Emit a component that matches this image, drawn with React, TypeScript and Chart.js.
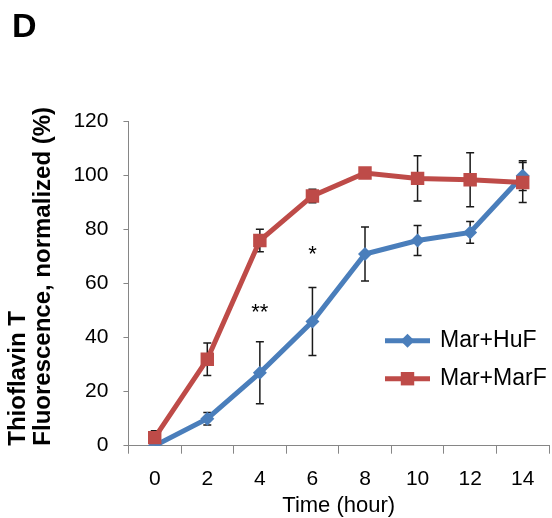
import React, { useEffect, useRef } from 'react';
import { Chart, registerables } from 'chart.js';

Chart.register(...registerables);

const timeLabels = ['0', '2', '4', '6', '8', '10', '12', '14'];
const seriesNames = ['Mar+HuF', 'Mar+MarF'];
const huF = [0, 10, 27, 46, 71, 76, 79, 100];
const huFErr = [0, 2.3, 11.5, 12.6, 10, 5.6, 4, 5.5];
const marF = [3, 32, 76, 92.5, 101, 99, 98.5, 97.5];
const marFErr = [2.5, 6, 4.2, 2.5, 1, 8.4, 10, 7.4];
const yTicks = [0, 20, 40, 60, 80, 100, 120];
const starTexts = ['**', '*'];
const starAt = ['4', '6'];
const starValues = [49, 70.5];
const panelLabel = 'D';

const FONT = '"Liberation Sans", Arial, Helvetica, sans-serif';
const BLUE = '#4A7EBB';
const RED = '#BE4B48';
const AXIS = '#868686';

const errorBarPlugin = {
  id: 'errorBars',
  beforeDatasetsDraw(chart: any) {
    const ctx = chart.ctx;
    const y = chart.scales.y;
    const errs = [huFErr, marFErr];
    chart.data.datasets.forEach((ds: any, i: number) => {
      const meta = chart.getDatasetMeta(i);
      meta.data.forEach((pt: any, j: number) => {
        const e = errs[i][j];
        if (!e) return;
        const v = ds.data[j];
        const top = y.getPixelForValue(v + e);
        const bot = y.getPixelForValue(v - e);
        ctx.save();
        ctx.strokeStyle = '#1a1a1a';
        ctx.lineWidth = 1.5;
        ctx.beginPath();
        ctx.moveTo(pt.x, top);
        ctx.lineTo(pt.x, bot);
        ctx.moveTo(pt.x - 4, top);
        ctx.lineTo(pt.x + 4, top);
        ctx.moveTo(pt.x - 4, bot);
        ctx.lineTo(pt.x + 4, bot);
        ctx.stroke();
        ctx.restore();
      });
    });
  },
};

const extrasPlugin = {
  id: 'extras',
  afterDraw(chart: any) {
    const ctx = chart.ctx;
    const xs = chart.scales.x;
    const ys = chart.scales.y;
    const area = chart.chartArea;
    ctx.save();
    // panel label
    ctx.fillStyle = '#000';
    ctx.font = `bold 34px ${FONT}`;
    ctx.textAlign = 'left';
    ctx.textBaseline = 'alphabetic';
    ctx.fillText(panelLabel, 12, 37);
    // stars
    ctx.font = `22px ${FONT}`;
    ctx.textAlign = 'center';
    ctx.textBaseline = 'middle';
    starTexts.forEach((t, i) => {
      const idx = timeLabels.indexOf(starAt[i]);
      ctx.fillText(t, xs.getPixelForValue(idx), ys.getPixelForValue(starValues[i]));
    });
    // legend
    const colors = [BLUE, RED];
    const styles = ['rectRot', 'rect'];
    const radii = [7, 9.5];
    const lx0 = area.right - 164;
    const lx1 = area.right - 119;
    const tx = area.right - 109;
    const rows = [area.top + 219, area.top + 257];
    seriesNames.forEach((name, i) => {
      const ry = rows[i];
      ctx.strokeStyle = colors[i];
      ctx.lineWidth = 5;
      ctx.beginPath();
      ctx.moveTo(lx0, ry);
      ctx.lineTo(lx1, ry);
      ctx.stroke();
      ctx.fillStyle = colors[i];
      ctx.beginPath();
      const cx = (lx0 + lx1) / 2;
      const r = radii[i];
      if (styles[i] === 'rect') {
        const s = r * Math.SQRT1_2;
        ctx.rect(cx - s, ry - s, 2 * s, 2 * s);
      } else {
        ctx.moveTo(cx - r, ry);
        ctx.lineTo(cx, ry - r);
        ctx.lineTo(cx + r, ry);
        ctx.lineTo(cx, ry + r);
        ctx.closePath();
      }
      ctx.fill();
      ctx.fillStyle = '#000';
      ctx.font = `23px ${FONT}`;
      ctx.textAlign = 'left';
      ctx.textBaseline = 'middle';
      ctx.fillText(name, tx, ry);
    });
    ctx.restore();
  },
};

export default function App() {
  const ref = useRef<HTMLCanvasElement | null>(null);
  useEffect(() => {
    if (!ref.current) return;
    const chart = new Chart(ref.current, {
      type: 'line',
      data: {
        labels: timeLabels,
        datasets: [
          {
            label: seriesNames[0],
            data: huF,
            borderColor: BLUE,
            backgroundColor: BLUE,
            borderWidth: 5,
            pointStyle: 'rectRot',
            pointRadius: 7,
            pointBorderWidth: 0,
            tension: 0,
            order: 2,
          },
          {
            label: seriesNames[1],
            data: marF,
            borderColor: RED,
            backgroundColor: RED,
            borderWidth: 5,
            pointStyle: 'rect',
            pointRadius: 9.5,
            pointBorderWidth: 0,
            tension: 0,
            order: 1,
          },
        ],
      },
      options: {
        responsive: false,
        animation: false,
        devicePixelRatio: 1,
        layout: { autoPadding: false, padding: { top: 121.7, right: 3, bottom: 0, left: 0 } },
        plugins: { legend: { display: false }, tooltip: { enabled: false } },
        scales: {
          x: {
            type: 'category',
            offset: true,
            afterFit: (scale: any) => {
              scale.height = 72.3;
            },
            grid: { offset: true, drawOnChartArea: false, tickLength: 8, color: AXIS, lineWidth: 1 },
            border: { color: AXIS, width: 1 },
            ticks: { font: { family: FONT, size: 21, lineHeight: 1.0 }, color: '#000', padding: 15, maxRotation: 0, autoSkip: false },
            title: { display: true, text: 'Time (hour)', font: { family: FONT, size: 22, lineHeight: 1.0 }, color: '#000', padding: { top: 0, bottom: 1 } },
          },
          y: {
            min: 0,
            max: 120,
            afterBuildTicks: (scale: any) => {
              scale.ticks = yTicks.map((v) => ({ value: v }));
            },
            grid: { drawOnChartArea: false, tickLength: 5, color: AXIS, lineWidth: 1 },
            border: { color: AXIS, width: 1 },
            ticks: { font: { family: FONT, size: 21 }, color: '#000', padding: 15 },
            title: {
              display: true,
              text: ['Thioflavin T', 'Fluorescence, normalized (%)'],
              font: { family: FONT, size: 24, weight: 'bold', lineHeight: 1.05 },
              color: '#000',
              align: 'start',
              padding: { top: 6, bottom: 2 },
            },
          },
        },
      },
      plugins: [errorBarPlugin, extrasPlugin],
    } as any);
    return () => chart.destroy();
  }, []);
  return (
    <div style={{ position: 'absolute', left: 0, top: 0, width: 552, height: 518, background: '#fff' }}>
      <canvas ref={ref} width={552} height={518} style={{ width: 552, height: 518, display: 'block' }} />
    </div>
  );
}
